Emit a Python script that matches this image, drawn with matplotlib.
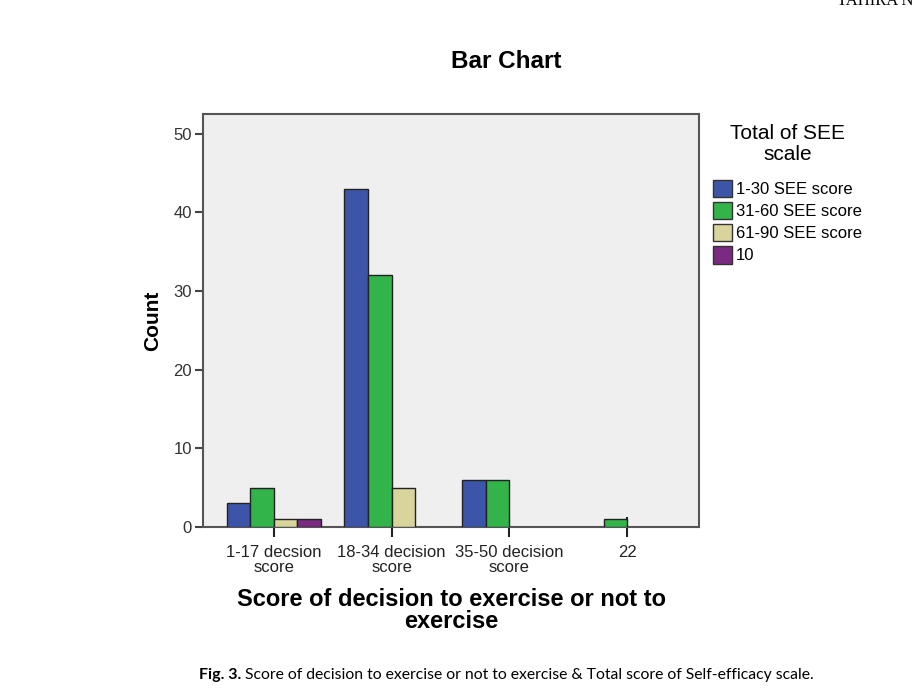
import numpy as np
import matplotlib.pyplot as plt
from matplotlib.patches import Patch

categories = ["1-17 decsion\nscore", "18-34 decision\nscore", "35-50 decision\nscore", "22"]
series_names = ["1-30 SEE score", "31-60 SEE score", "61-90 SEE score", "10"]
# counts per category for each SEE group (0 = no bar)
see_1_30 = [3, 43, 6, 0]
see_31_60 = [5, 32, 6, 1]
see_61_90 = [1, 5, 0, 0]
see_10 = [1, 0, 0, 0]
colors = ["#3d55a9", "#33b44a", "#d8d49c", "#7a2a80"]

plt.rcParams['font.family'] = ['Liberation Sans', 'DejaVu Sans']

fig = plt.figure(figsize=(9.15, 6.94), dpi=100)
ax = fig.add_axes([0.2219, 0.2406, 0.5421, 0.5951])
ax.set_facecolor("#efefef")

x = np.arange(len(categories))
w = 0.2
offsets = [-0.3, -0.1, 0.1, 0.3]
for vals, off, c in zip([see_1_30, see_31_60, see_61_90, see_10], offsets, colors):
    v = np.array(vals, dtype=float)
    m = v > 0
    ax.bar(x[m] + off, v[m], width=w, color=c, edgecolor="#222222", linewidth=1.0, zorder=3)

ax.set_xlim(-0.6, 3.61)
ax.set_ylim(0, 52.5)
ax.set_yticks([0, 10, 20, 30, 40, 50])
ax.set_xticks(x)
ax.set_xticklabels(categories, fontsize=12, linespacing=1.0)
ax.tick_params(axis="y", labelsize=12, length=6, width=1.5, color="#444444", labelcolor="#333333", pad=2)
ax.tick_params(axis="x", direction="inout", length=14, width=1.5, color="#222222", labelcolor="#222222", pad=6)
for s in ax.spines.values():
    s.set_color("#555555")
    s.set_linewidth(1.5)

ax.set_ylabel("Count", fontsize=15, fontweight="bold", labelpad=8)
ax.set_xlabel("Score of decision to exercise or not to\nexercise", fontsize=17, fontweight="bold",
              linespacing=0.95, labelpad=9)
fig.text(0.553, 0.912, "Bar Chart", fontsize=17.5, fontweight="bold", ha="center", va="center")

handles = [Patch(facecolor=c, edgecolor="#333333", label=n) for c, n in zip(colors, series_names)]
leg = fig.legend(handles=handles, title="Total of SEE\nscale", loc="upper left",
                 bbox_to_anchor=(0.776, 0.826), frameon=False, fontsize=12,
                 title_fontsize=15, handlelength=1.1, handleheight=1.25, handletextpad=0.25,
                 labelspacing=0.27, borderpad=0.2, borderaxespad=0)
leg.get_title().set_multialignment("center")
leg.get_title().set_linespacing(1.15)
leg._legend_box.sep = 11

fig.text(0.915, 0.998, "TAHIRA N", fontsize=12, family="Liberation Serif", ha="left", va="center")
fig.text(0.218, 0.027, "Fig. 3.", fontsize=11.5, fontweight="bold", family="Lato", ha="left", va="center")
fig.text(0.268, 0.027, "Score of decision to exercise or not to exercise & Total score of Self-efficacy scale.",
         fontsize=11.3, family="Lato", ha="left", va="center")

fig.savefig("out.png", dpi=100)
